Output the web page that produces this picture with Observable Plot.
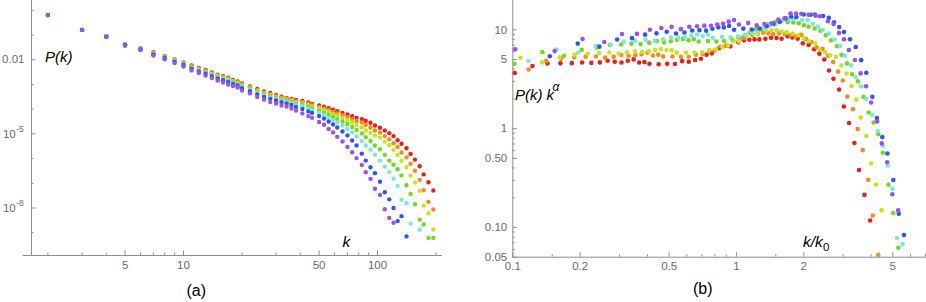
<!DOCTYPE html>
<html><head><meta charset="utf-8">
<script src="https://cdn.jsdelivr.net/npm/d3@7"></script>
<script src="https://cdn.jsdelivr.net/npm/@observablehq/plot@0.6"></script>
<style>
body{margin:0;background:#fff;}
#wrap{position:relative;width:926px;height:302px;overflow:hidden;background:#fff;}
.pl{position:absolute;top:0;}
#ann{position:absolute;left:0;top:0;}
</style></head><body>
<div id="wrap">
  <div id="pa" class="pl" style="left:0px"></div>
  <div id="pb" class="pl" style="left:460px"></div>
  <svg id="ann" width="926" height="302" font-family="'Liberation Sans', Arial, sans-serif" fill="#000">
    <text x="45" y="62" font-size="15" font-style="italic">P(k)</text>
    <text x="342.5" y="246.5" font-size="15.5" font-style="italic">k</text>
    <text x="186.5" y="295.5" font-size="16">(a)</text>
    <text x="515" y="99.5" font-size="15" font-style="italic">P(k)</text>
    <text x="546.5" y="99.5" font-size="15" font-style="italic">k</text>
    <text x="552.5" y="91" font-size="12" font-style="italic">α</text>
    <text x="803" y="246.5" font-size="15.5" font-style="italic">k/k</text>
    <text x="823" y="250.5" font-size="11.5">0</text>
    <text x="693" y="294" font-size="16">(b)</text>
  </svg>
</div>
<script>
// degree grid k (shared by all series)
const K = [2,3,4,5,6,7,8,9,10,11,12,13,14,15,16,17,18,19,20,22,24,26,28,30,32,34,36,38,41,44,46,50,53,56,59,62,66,70,74,78,83,87,92,97,103,109,115,121,127,133,141,148,156,165,173,183,194];

// log10 P(k), one array per series (null = no point)
const logP_red = [-0.19,-0.79,-1.04,-1.38,-1.53,-1.69,-1.85,-1.99,-2.11,-2.23,-2.33,-2.41,-2.51,-2.60,-2.66,-2.72,-2.82,-2.88,-2.96,
  -3.08,-3.18,-3.28,-3.34,-3.43,-3.49,-3.55,-3.58,-3.63,
  -3.67,-3.73,-3.79,-3.85,-3.90,-3.96,-4.02,-4.08,-4.15,-4.21,
  -4.28,-4.35,-4.40,-4.47,-4.55,-4.66,-4.75,-4.86,-4.97,-5.09,
  -5.26,-5.40,-5.58,-5.81,-6.04,-6.31,-6.64,-6.96,-7.29];
const logP_orange = [-0.19,-0.79,-1.04,-1.40,-1.54,-1.71,-1.86,-2.00,-2.13,-2.26,-2.36,-2.44,-2.54,-2.62,-2.69,-2.75,-2.85,-2.91,-2.99,
  -3.11,-3.22,-3.32,-3.39,-3.47,-3.53,-3.59,-3.62,-3.68,
  -3.72,-3.78,-3.84,-3.91,-3.97,-4.03,-4.10,-4.17,-4.24,-4.32,
  -4.40,-4.48,-4.54,-4.64,-4.74,-4.86,-4.95,-5.09,-5.22,-5.38,
  -5.53,-5.75,-5.95,-6.21,-6.49,-6.86,-7.28,-7.75,-8.06];
const logP_lime = [-0.19,-0.79,-1.04,-1.37,-1.55,-1.72,-1.88,-2.02,-2.15,-2.28,-2.38,-2.47,-2.57,-2.65,-2.72,-2.79,-2.87,-2.94,-3.03,
  -3.15,-3.26,-3.36,-3.43,-3.51,-3.57,-3.63,-3.66,-3.73,
  -3.77,-3.84,-3.89,-3.97,-4.04,-4.11,-4.19,-4.26,-4.35,-4.44,
  -4.54,-4.64,-4.74,-4.86,-4.96,-5.06,-5.15,-5.31,-5.46,-5.65,
  -5.85,-6.09,-6.35,-6.69,-6.97,-7.30,-7.90,-8.21,-8.87];
const logP_green = [-0.19,-0.79,-1.05,-1.38,-1.56,-1.74,-1.89,-2.04,-2.17,-2.30,-2.40,-2.49,-2.60,-2.68,-2.75,-2.82,-2.91,-2.97,-3.06,
  -3.18,-3.30,-3.40,-3.47,-3.55,-3.62,-3.67,-3.71,-3.78,
  -3.83,-3.90,-3.96,-4.07,-4.15,-4.23,-4.32,-4.40,-4.50,-4.60,
  -4.72,-4.84,-4.98,-5.13,-5.29,-5.47,-5.62,-5.85,-6.08,-6.25,
  -6.43,-6.68,-7.08,-7.43,-7.85,-8.47,-8.67,-9.21,-9.21];
const logP_cyan = [-0.19,-0.79,-1.06,-1.39,-1.57,-1.76,-1.91,-2.06,-2.19,-2.33,-2.43,-2.52,-2.62,-2.71,-2.78,-2.85,-2.94,-3.00,-3.10,
  -3.22,-3.34,-3.44,-3.52,-3.59,-3.66,-3.71,-3.76,-3.83,
  -3.89,-3.97,-4.03,-4.15,-4.23,-4.34,-4.44,-4.54,-4.66,-4.80,
  -4.94,-5.11,-5.29,-5.47,-5.64,-5.84,-6.08,-6.32,-6.54,-6.81,
  -7.11,-7.67,-7.81,-8.64,null,-8.88,null,null,null];
const logP_blue = [-0.19,-0.79,-1.06,-1.40,-1.58,-1.78,-1.93,-2.08,-2.21,-2.36,-2.47,-2.56,-2.66,-2.76,-2.83,-2.90,-2.98,-3.04,-3.15,
  -3.27,-3.40,-3.50,-3.58,-3.65,-3.72,-3.77,-3.83,-3.91,
  -3.99,-4.09,-4.15,-4.28,-4.38,-4.50,-4.62,-4.74,-4.90,-5.06,
  -5.27,-5.47,-5.80,-6.08,-6.35,-6.59,-6.94,-7.36,-7.65,-8.00,
  -8.53,-8.33,-9.15,null,null,null,null,null,null];
const logP_purple = [-0.19,-0.79,-1.08,-1.43,-1.61,-1.83,-1.98,-2.13,-2.27,-2.43,-2.53,-2.64,-2.74,-2.84,-2.92,-3.00,-3.06,-3.12,-3.24,
  -3.36,-3.51,-3.61,-3.71,-3.77,-3.85,-3.89,-3.97,-4.05,
  -4.17,-4.28,-4.35,-4.52,-4.63,-4.80,-4.94,-5.12,-5.31,-5.53,
  -5.74,-5.98,-6.26,-6.55,-6.82,-7.22,-7.47,-8.05,-8.40,-8.60,
  null,null,null,null,null,null,null,null,null];

// panel (b) rescaling: k0 and exponent alpha per series
const k0    = [49, 42.5, 37, 29.5, 25.5, 20.5, 19.5];
const alpha = [2.78, 2.86, 2.92, 3.03, 3.09, 3.19, 3.30];
const seriesColors = ["#e8201c","#f78a1e","#c8e41e","#74d91e","#7ee6e2","#2f55ee","#9b52e8"];

// tick values and labels
const aXMajor = [5, 10, 50, 100];
const aXLabels = ["5","10","50","100"];
const aXMinor = [2,3,4,6,7,8,9,20,30,40,60,70,80,90,200];
const aYMajor = [1e-8, 1e-5, 1e-2];
const aYDec = [1e-2];
const aYDecLabels = ["0.01"];
const aYSci = [1e-8, 1e-5];
const aYSciExp = ["-8", "-5"];
const aYMinor = [1e-9,1e-7,1e-6,1e-4,1e-3,0.1,1];
const bXMajor = [0.1, 0.2, 0.5, 1, 2, 5];
const bXLabels = ["0.1","0.2","0.5","1","2","5"];
const bXMinor = [0.15,0.3,0.4,0.6,0.7,0.8,0.9,1.5,3,4,6,7];
const bYMajor = [0.05, 0.1, 0.5, 1, 5, 10];
const bYLabels = ["0.05","0.10","0.50","1","5","10"];
const bYMinor = [0.06,0.07,0.08,0.09,0.2,0.3,0.4,0.6,0.7,0.8,0.9,2,3,4,6,7,8,9];

const series = [logP_red, logP_orange, logP_lime, logP_green, logP_cyan, logP_blue, logP_purple];
const rowsA = [], rowsB = [];
series.forEach((arr, s) => arr.forEach((lp, i) => {
  if (lp == null) return;
  const k = K[i], P = Math.pow(10, lp);
  rowsA.push({s, k, P});
  const u = k / k0[s], v = P * Math.pow(k, alpha[s]);
  if (u >= 0.1 && u <= 7 && v >= 0.05 && v <= 19.8) rowsB.push({s, u, v});
}));

const axisGrey = "#8e8e8e", labGrey = "#6a6a6a";
const font = "'Liberation Sans', Arial, sans-serif";
const colorScale = {type: "ordinal", domain: [0,1,2,3,4,5,6], range: seriesColors};

const plotA = Plot.plot({
  width: 460, height: 282,
  marginLeft: 22.7, marginRight: 19, marginTop: 0, marginBottom: 27,
  x: {type: "log", domain: [1.492, 213.7], label: null},
  y: {type: "log", domain: [1.194e-10, 2.517], label: null},
  color: colorScale,
  style: {fontFamily: font, fontSize: "11.5px", color: labGrey, background: "transparent", overflow: "visible"},
  marks: [
    Plot.frame({anchor: "bottom", stroke: axisGrey}),
    Plot.frame({anchor: "left", stroke: axisGrey, dx: 8.3}),
    Plot.axisX(aXMinor, {tickSize: -2.5, stroke: axisGrey, fill: "none", label: null}),
    Plot.axisX(aXMajor, {tickSize: -4.5, stroke: axisGrey, fill: "none", label: null}),
    Plot.axisY(aYMinor, {tickSize: -2.5, stroke: axisGrey, fill: "none", dx: 8.3, label: null}),
    Plot.axisY(aYMajor, {tickSize: -4.5, stroke: axisGrey, fill: "none", dx: 8.3, label: null}),
    Plot.text(aXMajor, {x: d => d, text: (d, i) => aXLabels[i], frameAnchor: "bottom", dy: 13, fill: labGrey, fontSize: 11.5}),
    Plot.text(aYDec, {y: d => d, text: (d, i) => aYDecLabels[i], frameAnchor: "left", textAnchor: "end", dx: 1.3, fill: labGrey, fontSize: 11.5}),
    Plot.text(aYSci, {y: d => d, text: () => "10", frameAnchor: "left", textAnchor: "end", dx: -7.5, dy: 0.5, fill: labGrey, fontSize: 11.5}),
    Plot.text(aYSci, {y: d => d, text: (d, i) => aYSciExp[i], frameAnchor: "left", textAnchor: "start", dx: -7, dy: -4.5, fill: labGrey, fontSize: 8.5}),
    Plot.dot(rowsA, {x: "k", y: "P", fill: "s", r: 2.2})
  ]
});
document.getElementById("pa").appendChild(plotA);

const plotB = Plot.plot({
  width: 466, height: 282,
  marginLeft: 52.3, marginRight: 1, marginTop: 0, marginBottom: 25.3,
  x: {type: "log", domain: [0.1, 7], label: null},
  y: {type: "log", domain: [0.05, 19.8], label: null},
  color: colorScale,
  style: {fontFamily: font, fontSize: "11.5px", color: labGrey, background: "transparent", overflow: "visible"},
  marks: [
    Plot.frame({anchor: "bottom", stroke: axisGrey}),
    Plot.frame({anchor: "left", stroke: axisGrey}),
    Plot.axisX(bXMinor, {tickSize: -2.5, stroke: axisGrey, fill: "none", label: null}),
    Plot.axisX(bXMajor, {tickSize: -4.5, stroke: axisGrey, fill: "none", label: null}),
    Plot.axisY(bYMinor, {tickSize: -2.5, stroke: axisGrey, fill: "none", label: null}),
    Plot.axisY(bYMajor, {tickSize: -4.5, stroke: axisGrey, fill: "none", label: null}),
    Plot.text(bXMajor, {x: d => d, text: (d, i) => bXLabels[i], frameAnchor: "bottom", dy: 12.5, fill: labGrey, fontSize: 11.5}),
    Plot.text(bYMajor, {y: d => d, text: (d, i) => bYLabels[i], frameAnchor: "left", textAnchor: "end", dx: -5.6, fill: labGrey, fontSize: 11.5}),
    Plot.dot(rowsB, {x: "u", y: "v", fill: "s", r: 2.3})
  ]
});
document.getElementById("pb").appendChild(plotB);
</script>
</body></html>
